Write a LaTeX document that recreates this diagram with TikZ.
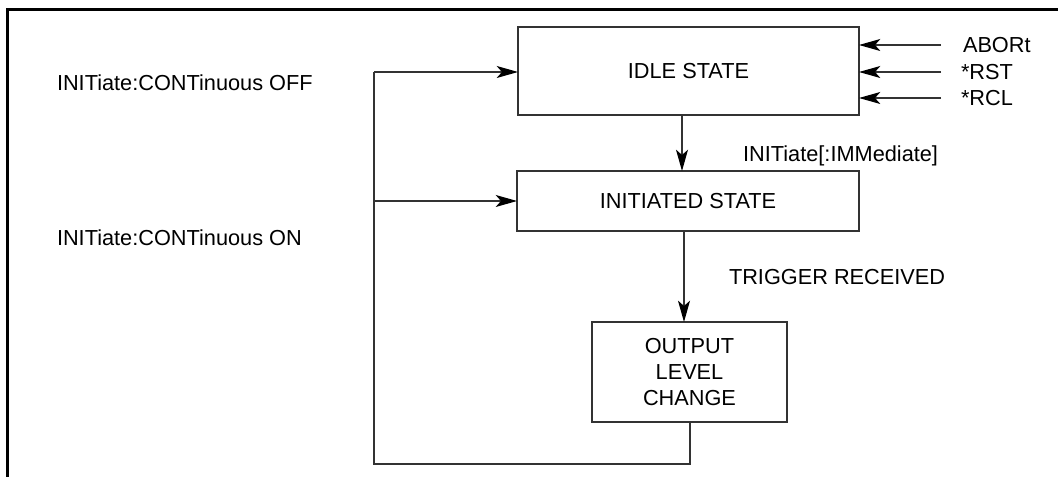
\documentclass[tikz,border=0pt]{standalone}
\usepackage{fontspec}
\setmainfont{Liberation Sans}
\usetikzlibrary{arrows.meta}
\begin{document}
\begin{tikzpicture}[x=0.75pt,y=-0.75pt,
  every node/.style={font=\fontsize{16.3}{19.5}\selectfont, inner sep=0pt, outer sep=0pt},
  statebox/.style={draw=black!80, line width=0.8pt, align=center},
  conn/.style={draw=black!80, line width=0.8pt},
  arr/.style={conn, -{Stealth[length=16pt,width=9pt,inset=4pt,color=black]}},
  lbl/.style={anchor=west, text=black}]
\useasboundingbox (0,0) rectangle (1058,477);
\draw[line width=2.25pt] (7.5,477) -- (7.5,10) -- (1058,10);

\node[statebox, minimum width=255.75pt, minimum height=66pt] (idle) at (688.5,71) {IDLE STATE};
\node[statebox, minimum width=256.5pt, minimum height=45pt] (init) at (688,201) {INITIATED STATE};
\node[statebox, minimum width=146.25pt, minimum height=75pt] (out) at (689.5,372) {OUTPUT\\ LEVEL\\CHANGE};

% external inputs to IDLE
\coordinate (ab) at (941,45);
\coordinate (rs) at (941,72);
\coordinate (rc) at (941,98);
\draw[arr] (ab) -- (ab -| idle.east);
\draw[arr] (rs) -- (rs -| idle.east);
\draw[arr] (rc) -- (rc -| idle.east);
\node[lbl] (tab) at (963,45) {ABORt};
\node[lbl] (trs) at (961,72) {*RST};
\node[lbl] (trc) at (961,98) {*RCL};

% idle -> initiated
\coordinate (d1) at (682,0);
\draw[arr] (d1 |- idle.south) -- (d1 |- init.north);
\node[anchor=east] (timm) at (938,156) {INITiate[:IMMediate]};

% initiated -> output
\coordinate (d2) at (684,0);
\draw[arr] (d2 |- init.south) -- (d2 |- out.north);
\node[lbl] (ttrig) at (729,277) {TRIGGER RECEIVED};

% loop back
\coordinate (lb) at (690,464);
\coordinate (ll) at (374,464);
\coordinate (lt) at (374,72);
\coordinate (lm) at (374,201);
\draw[conn] (out.south -| lb) -- (lb) -- (ll) -- (lt);
\draw[arr] (lt) -- (lt -| idle.west);
\draw[arr] (lm) -- (init.west);

\node[lbl] (toff) at (57,83) {INITiate:CONTinuous OFF};
\node[lbl] (ton) at (57,238) {INITiate:CONTinuous ON};
\end{tikzpicture}
\end{document}
